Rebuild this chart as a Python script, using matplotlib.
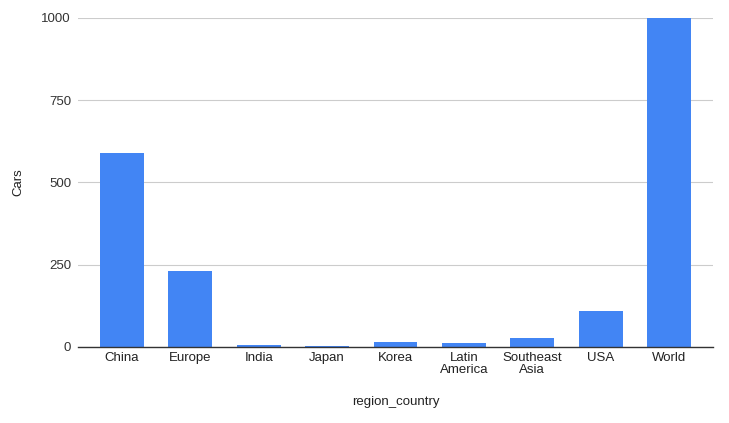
import matplotlib
matplotlib.use("Agg")
import matplotlib.pyplot as plt

regions = ["China", "Europe", "India", "Japan", "Korea", "Latin\nAmerica",
           "Southeast\nAsia", "USA", "World"]
cars = [588, 231, 6, 3, 15, 11, 27, 109, 1000]
yticks = [0, 250, 500, 750, 1000]

plt.rcParams['font.family'] = ['Liberation Sans', 'DejaVu Sans']

fig = plt.figure(figsize=(7.29, 4.23), dpi=100)
ax = fig.add_axes([0.107, 0.180, 0.871, 0.778])

x = list(range(len(regions)))
ax.bar(x, cars, width=0.64, color="#4285F4", zorder=3)

ax.set_xlim(-0.64, len(regions) - 1 + 0.64)
ax.set_ylim(0, 1000)
ax.set_yticks(yticks)
ax.set_yticklabels([str(v) for v in yticks], fontsize=9.5, color="#333333")
ax.set_xticks(x)
ax.set_xticklabels(regions, fontsize=9.5, color="#222222", linespacing=1.0)
ax.grid(axis="y", color="#cccccc", linewidth=0.8, zorder=0)
ax.tick_params(axis="y", length=0, pad=5)
ax.tick_params(axis="x", length=0, pad=4)

for s in ["top", "right", "left"]:
    ax.spines[s].set_visible(False)
ax.spines["bottom"].set_color("#333333")
ax.spines["bottom"].set_linewidth(1.0)
ax.spines["bottom"].set_zorder(4)

ax.set_xlabel("region_country", fontsize=9.5, color="#222222", labelpad=14)
ax.set_ylabel("Cars", fontsize=9.5, color="#222222", labelpad=12)

fig.savefig("out.png", dpi=100)
